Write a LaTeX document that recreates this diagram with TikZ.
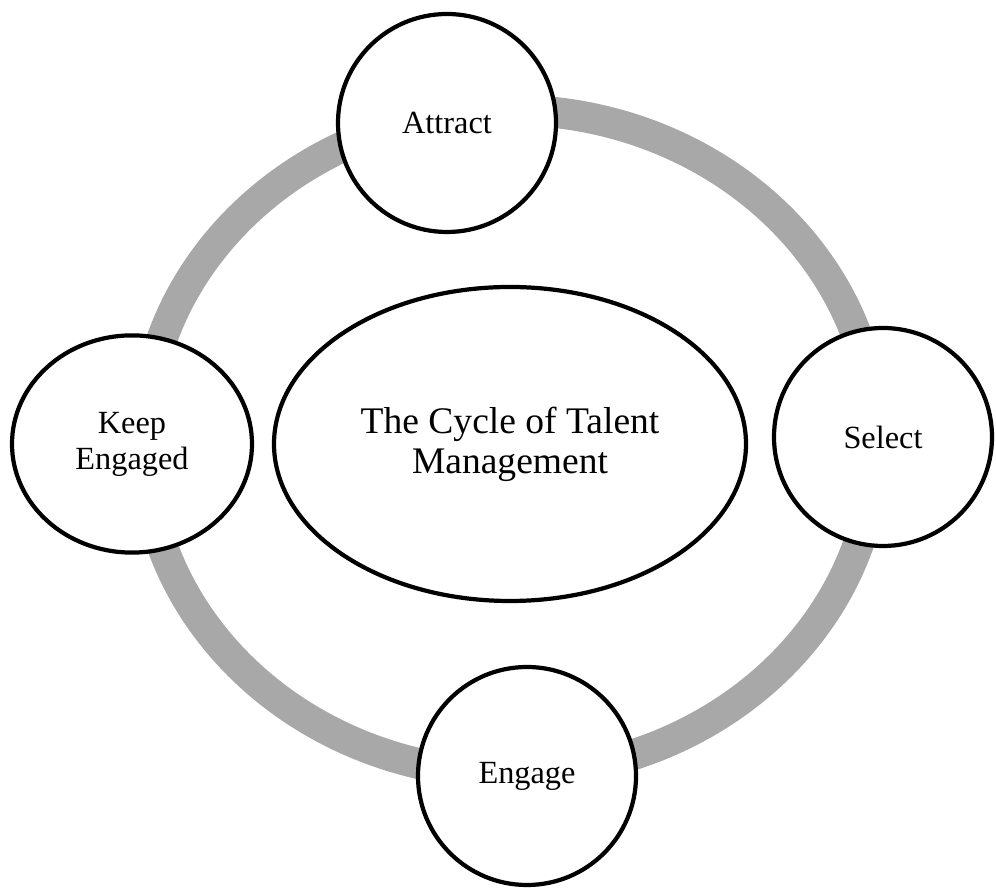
\documentclass[tikz,border=0pt]{standalone}
\usepackage{fontspec}
\setmainfont{Liberation Serif}
\definecolor{ringgray}{RGB}{168, 168, 168}
\usepackage{tikz}
\usetikzlibrary{shapes.geometric}
\tikzset{
    stagebox/.style={draw, circle, fill=white, line width=3pt, minimum size=5.45cm, inner sep=0pt, align=center, font=\fontsize{23}{25.5}\selectfont},
    hubbox/.style={draw, ellipse, fill=white, line width=3pt, minimum width=11.8cm, minimum height=7.85cm, inner sep=0pt, align=center, font=\fontsize{26.7}{28.5}\selectfont},
    ringline/.style={draw=ringgray, line width=22pt},
}

\begin{document}
\begin{tikzpicture}
                \useasboundingbox (0,0) rectangle (24.9,22.2);
                
                % Ring behind the stages
                \coordinate (hub) at (12.75, 11.15);
                \draw[ringline] (hub) ellipse [x radius=9.15cm, y radius=8.3cm];
                
                % Centre
                \node[hubbox] (cycle) at (12.75, 11.1) {The Cycle of Talent\\Management};
                
                % Stages
                \node[stagebox] (attract) at (11.175, 19.125) {Attract};
                \node[stagebox] (select) at (22.075, 11.275) {Select};
                \node[stagebox] (engage) at (13.175, 2.8) {Engage};
                \node[stagebox, ellipse, minimum width=6.0cm, minimum height=5.43cm] (keep) at (3.3, 11.1) {Keep\\Engaged};
            \end{tikzpicture}
\end{document}
